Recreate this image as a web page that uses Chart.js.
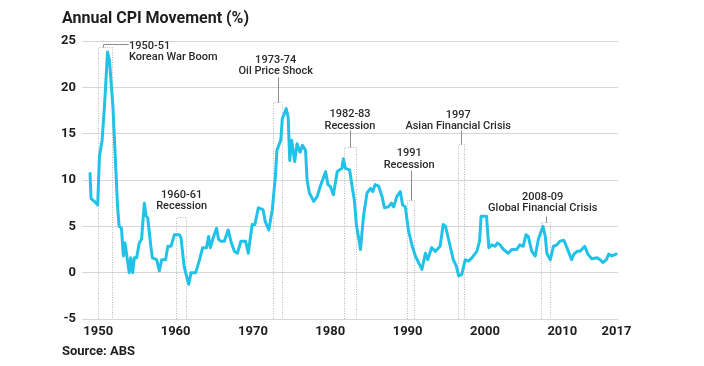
<!DOCTYPE html>
<html><head><meta charset="utf-8">
<script src="https://cdn.jsdelivr.net/npm/chart.js@4.4.1/dist/chart.umd.min.js"></script>
<style>html,body{margin:0;padding:0;background:#fff}#wrap{position:relative;width:704px;height:366px}</style>
</head><body><div id="wrap"><canvas id="c" width="704" height="366"></canvas></div>
<script>
// ---- data ----
const years = [1948.94,1949.07,1949.5,1949.93,1950.15,1950.5,1950.8,1951.2,1951.45,1951.9,1952.2,1952.5,1952.7,1953.0,1953.25,1953.46,1953.7,1954.0,1954.2,1954.45,1954.67,1954.97,1955.3,1955.6,1955.96,1956.2,1956.4,1956.8,1957.0,1957.55,1957.9,1958.2,1958.7,1959.0,1959.4,1959.85,1960.5,1960.7,1961.1,1961.3,1961.7,1962.0,1962.6,1963.1,1963.5,1964.0,1964.27,1964.5,1964.8,1965.3,1965.55,1965.85,1966.3,1966.8,1967.15,1967.6,1968.0,1968.45,1969.05,1969.4,1969.9,1970.25,1970.7,1971.3,1971.6,1972.05,1972.5,1972.9,1973.1,1973.6,1973.8,1974.3,1974.55,1974.76,1975.0,1975.4,1975.7,1976.1,1976.4,1976.8,1977.0,1977.3,1977.86,1978.3,1978.7,1979.4,1979.7,1980.0,1980.4,1980.9,1981.2,1981.5,1981.7,1981.95,1982.5,1982.9,1983.1,1983.4,1983.7,1983.9,1984.3,1984.75,1985.2,1985.5,1985.8,1986.25,1986.7,1987.0,1987.5,1987.9,1988.2,1988.6,1989.05,1989.35,1989.7,1990.1,1990.6,1991.0,1991.4,1991.85,1992.3,1992.6,1993.1,1993.6,1994.2,1994.6,1994.9,1995.5,1995.9,1996.3,1996.6,1997.0,1997.45,1997.9,1998.3,1998.95,1999.3,1999.5,1999.9,2000.2,2000.5,2000.9,2001.3,2001.6,2001.95,2002.4,2003.0,2003.45,2004.1,2004.5,2004.95,2005.3,2005.6,2006.05,2006.5,2006.9,2007.5,2007.8,2008.0,2008.45,2008.85,2009.3,2009.7,2010.2,2010.6,2011.2,2011.5,2011.9,2012.3,2012.9,2013.3,2013.8,2014.5,2014.9,2015.25,2015.7,2016.0,2016.4,2016.95];
const cpi = [10.7,8.0,7.7,7.3,12.5,14.3,17.9,23.8,22.9,17.9,12.5,7.1,5.0,4.8,1.8,3.2,1.8,0.0,1.6,0.0,1.6,1.6,3.2,3.6,7.5,6.1,5.9,2.85,1.6,1.4,0.2,1.4,1.4,2.85,2.85,4.1,4.1,3.75,0.7,0.0,-1.25,0.0,0.0,1.4,2.7,2.7,3.9,2.7,3.6,4.8,3.6,3.4,3.4,4.6,3.4,2.3,2.1,3.4,3.4,2.1,5.2,5.2,7.0,6.8,5.5,4.6,6.8,10.35,13.2,14.3,16.6,17.7,16.8,12.1,14.3,12.0,13.9,13.0,13.75,13.2,10.0,8.6,7.7,8.2,9.3,10.9,9.5,9.3,8.4,10.9,11.1,11.25,12.3,11.25,11.1,8.9,7.9,5.0,3.6,2.5,6.1,8.6,9.1,8.75,9.5,9.35,8.2,7.0,7.1,7.5,7.1,8.2,8.75,7.3,7.1,4.6,2.85,1.8,1.1,0.35,2.1,1.4,2.7,2.3,2.85,5.2,5.0,2.85,1.4,0.7,-0.35,-0.2,1.4,1.25,1.6,2.3,3.4,6.1,6.1,6.1,2.7,3.0,2.85,3.2,3.0,2.5,2.1,2.5,2.5,3.0,2.85,4.1,3.9,2.3,1.8,3.6,5.0,3.9,2.1,1.4,2.85,3.0,3.4,3.5,2.7,1.4,2.0,2.3,2.3,2.85,2.0,1.5,1.6,1.4,1.1,1.4,2.0,1.8,2.0];
const xTickYears = [1950,1960,1970,1980,1990,2000,2010,2017];
const yTickValues = [-5,0,5,10,15,20,25];

// ---- event annotations (data units) ----
const events = [
  {lines:["1950-51","Korean War Boom"], x0:1950.03, x1:1951.78, top:24.36, tx:1953.98, ty:24.47, align:"left", conn:[[1950.67,24.36],[1950.67,24.65],[1953.85,24.65]]},
  {lines:["1960-61","Recession"], x0:1960.1, x1:1961.39, top:5.96, tx:1960.78, ty:8.39, align:"center", conn:null},
  {lines:["1973-74","Oil Price Shock"], x0:1972.62, x1:1973.78, top:18.47, tx:1972.95, ty:22.94, align:"center", conn:[[1973.2,21.15],[1973.2,18.47]]},
  {lines:["1982-83","Recession"], x0:1981.82, x1:1983.33, top:13.57, tx:1982.55, ty:17.07, align:"center", conn:[[1982.55,15.36],[1982.55,13.57]]},
  {lines:["1991","Recession"], x0:1989.92, x1:1990.86, top:7.86, tx:1990.2, ty:12.86, align:"center", conn:[[1990.43,11.07],[1990.43,7.86]]},
  {lines:["1997","Asian Financial Crisis"], x0:1996.45, x1:1997.23, top:13.86, tx:1996.54, ty:17.04, align:"center", conn:[[1996.84,15.36],[1996.84,13.86]]},
  {lines:["2008-09","Global Financial Crisis"], x0:2007.25, x1:2008.41, top:5.42, tx:2007.47, ty:8.15, align:"center", conn:[[2007.86,6.07],[2007.86,5.42]]}
];

const FONT = "Roboto, 'Liberation Sans', sans-serif";
const points = years.map((y,i)=>({x:y, y:cpi[i]}));

const annot = {
  id:"annot",
  beforeDatasetsDraw(chart){
    const {ctx, scales:{x, y}} = chart;
    ctx.save();
    ctx.strokeStyle = "#b9b9b9"; ctx.lineWidth = 1; ctx.setLineDash([1,1.5]);
    const yb = y.getPixelForValue(-5);
    events.forEach(e=>{
      const a = Math.round(x.getPixelForValue(e.x0))+0.5, b = Math.round(x.getPixelForValue(e.x1))+0.5;
      const t = Math.round(y.getPixelForValue(e.top))+0.5;
      ctx.beginPath(); ctx.moveTo(a,yb); ctx.lineTo(a,t); ctx.lineTo(b,t); ctx.lineTo(b,yb); ctx.stroke();
    });
    ctx.restore();
  },
  afterDraw(chart){
    const {ctx, scales:{x, y}} = chart;
    ctx.save();
    ctx.strokeStyle = "#8c8c8c"; ctx.lineWidth = 1; ctx.setLineDash([]);
    events.forEach(e=>{
      if(e.conn){
        ctx.beginPath();
        e.conn.forEach((p,i)=>{
          const px = Math.round(x.getPixelForValue(p[0]))+0.5, py = Math.round(y.getPixelForValue(p[1]))+0.5;
          i? ctx.lineTo(px,py) : ctx.moveTo(px,py);
        });
        ctx.stroke();
      }
      ctx.fillStyle = "#2a2a2a"; ctx.font = "500 11px " + FONT;
      ctx.textAlign = e.align; ctx.textBaseline = "middle";
      const tx = x.getPixelForValue(e.tx), ty = y.getPixelForValue(e.ty);
      e.lines.forEach((l,i)=>ctx.fillText(l, tx, ty + i*11.6));
    });
    // title & source
    ctx.fillStyle = "#1e1e1e"; ctx.textAlign = "left"; ctx.textBaseline = "alphabetic";
    ctx.font = "700 16px " + FONT;
    ctx.fillText("Annual CPI Movement (%)", 62, 23);
    ctx.font = "700 13px " + FONT;
    ctx.fillText("Source: ABS", 62, 355);
    ctx.restore();
  }
};

new Chart(document.getElementById("c"), {
  type:"line",
  data:{datasets:[{data:points, borderColor:"#22c2e8", borderWidth:3, pointRadius:0, tension:0, borderJoinStyle:"round", borderCapStyle:"round", fill:false}]},
  options:{
    responsive:false, animation:false, devicePixelRatio:1,
    layout:{padding:{left:0,right:86,top:41,bottom:20}},
    plugins:{legend:{display:false}, tooltip:{enabled:false}},
    scales:{
      x:{type:"linear", min:1947.9, max:2017.2,
        afterBuildTicks:s=>{s.ticks = xTickYears.map(v=>({value:v}));},
        afterFit:s=>{s.height = 27;},
        grid:{display:false, drawTicks:false}, border:{display:false},
        ticks:{autoSkip:false, maxRotation:0, padding:5, color:"#1e1e1e", font:{family:FONT, weight:"bold", size:13}, callback:v=>String(v)}},
      y:{min:-5, max:25,
        afterBuildTicks:s=>{s.ticks = yTickValues.map(v=>({value:v}));},
        afterFit:s=>{s.width = 82;},
        grid:{color:"#d6d6d6", lineWidth:1, drawTicks:false}, border:{display:false},
        ticks:{padding:6, color:"#1e1e1e", font:{family:FONT, weight:"bold", size:13}}}
    }
  },
  plugins:[annot]
});
</script></body></html>
